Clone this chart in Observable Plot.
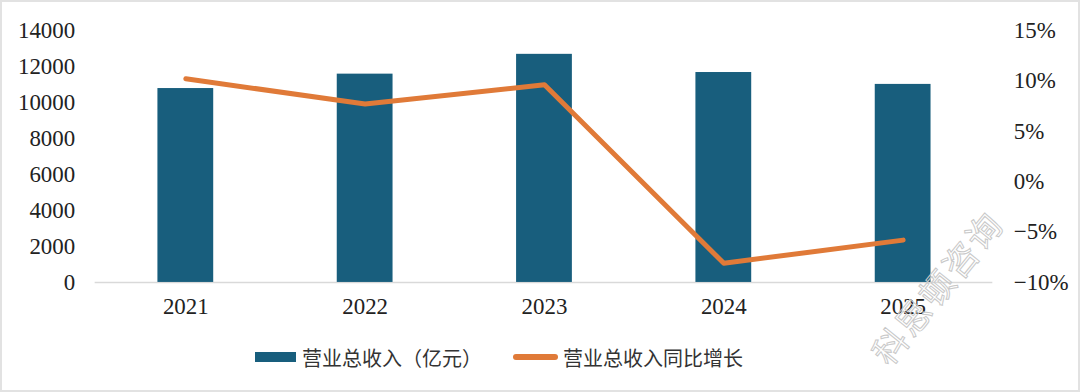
<!DOCTYPE html>
<html><head><meta charset="utf-8">
<script src="https://cdn.jsdelivr.net/npm/d3@7"></script>
<script src="https://cdn.jsdelivr.net/npm/@observablehq/plot@0.6"></script>
<style>
body{margin:0;background:#fff;}
#wrap{position:relative;width:1080px;height:392px;box-sizing:border-box;border:2px solid #e2e2e2;overflow:hidden;background:#fff;}
#wrap svg{position:absolute;left:-2px;top:-2px;}
#legend{position:absolute;top:340px;left:0;width:1080px;font-family:"Noto Sans CJK SC",sans-serif;font-size:20px;color:#333;}
.item{position:absolute;top:0;display:flex;align-items:center;height:30px;}
.sw-bar{width:41px;height:10px;background:#185E7D;margin-right:6px;}
.sw-line{width:45px;height:6px;border-radius:3px;background:#E07A38;margin-right:5px;}
#wm{position:absolute;left:842px;top:260px;transform:rotate(-51deg);transform-origin:center;font-family:"Noto Sans CJK SC",sans-serif;font-size:34px;color:transparent;-webkit-text-stroke:1px #c8c8c8;letter-spacing:3px;white-space:nowrap;}
</style></head>
<body>
<div id="wrap"></div>
<script>
const years = ["2021","2022","2023","2024","2025"];
const revenue = [10770, 11570, 12670, 11660, 11000];
const growth = [10.2, 7.7, 9.6, -8.1, -5.8];
const leftTicks = [0,2000,4000,6000,8000,10000,12000,14000];
const rightTicks = [-10,-5,0,5,10,15];
const seriesNames = ["营业总收入（亿元）","营业总收入同比增长"];
const watermark = "科思顿咨询";

const barData = years.map((y,i)=>({year:y, value:revenue[i]}));
const lineData = years.map((y,i)=>({year:y, value:growth[i]}));

const common = {
  width:1080, height:320,
  marginTop:30, marginBottom:37, marginLeft:95, marginRight:84,
  style:{fontFamily:"'Liberation Serif', serif", fontSize:"23px", color:"#222", background:"transparent"},
  x:{domain:years, type:"band", paddingInner:0.69, paddingOuter:0.345, align:0.5}
};

const p1 = Plot.plot({
  ...common,
  y:{domain:[0,14000]},
  marks:[
    Plot.ruleY([0],{stroke:"#d9d9d9", strokeWidth:1.5}),
    Plot.barY(barData,{x:"year", y:"value", fill:"#185E7D"}),
    Plot.axisY({ticks:leftTicks, tickSize:0, tickPadding:20, label:null, tickFormat:d=>String(d), fill:"#222", fontSize:23}),
    Plot.axisX({tickSize:0, tickPadding:15, label:null, fill:"#222", fontSize:23})
  ]
});

const p2 = Plot.plot({
  ...common,
  y:{domain:[-10,15]},
  marks:[
    Plot.line(lineData,{x:"year", y:"value", stroke:"#E07A38", strokeWidth:5, strokeLinecap:"round", strokeLinejoin:"round"}),
    Plot.axisY({anchor:"right", ticks:rightTicks, tickSize:0, tickPadding:21, label:null, tickFormat:d=>(d<0?"\u2212"+Math.abs(d):d)+"%", fill:"#222", fontSize:23}),
    Plot.axisX({ticks:[], label:null})
  ]
});

const wrap = document.getElementById("wrap");
wrap.appendChild(p1);
wrap.appendChild(p2);

const wm = document.createElement("div");
wm.id="wm"; wm.textContent = watermark;
wrap.appendChild(wm);

const legend = document.createElement("div");
legend.id="legend";
legend.innerHTML = `<div class="item" style="left:253px"><span class="sw-bar"></span><span>${seriesNames[0]}</span></div>
<div class="item" style="left:511px"><span class="sw-line"></span><span>${seriesNames[1]}</span></div>`;
wrap.appendChild(legend);
</script>
</body></html>
